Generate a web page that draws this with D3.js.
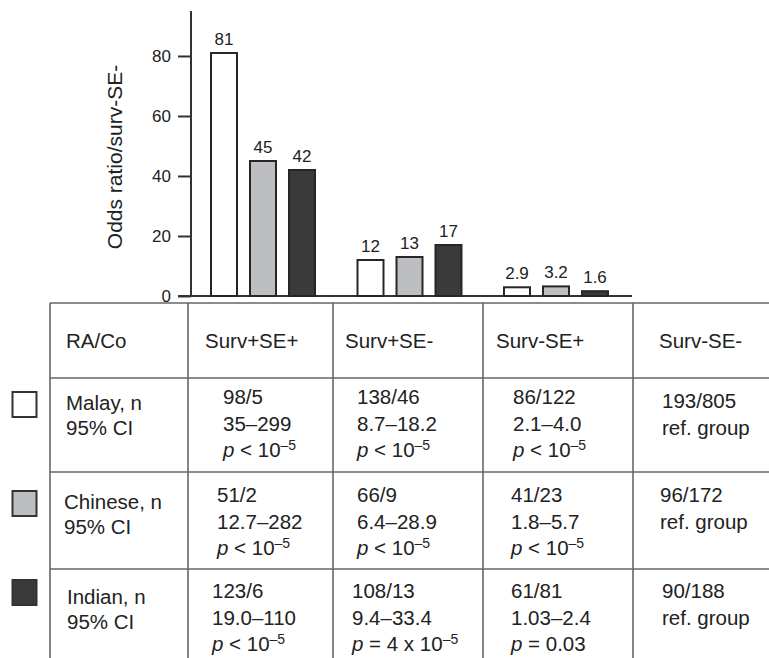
<!DOCTYPE html>
<html>
<head>
<meta charset="utf-8">
<script src="https://cdn.jsdelivr.net/npm/d3@7"></script>
<style>
  body { margin: 0; background: #fff; }
  svg { font-family: "Liberation Sans", Arial, sans-serif; }
</style>
</head>
<body>
<svg id="chart" width="769" height="658"></svg>
<script>
// data
const groups = ["Surv+SE+", "Surv+SE-", "Surv-SE+"];
const races = ["Malay", "Chinese", "Indian"];
const malayOR = [81, 12, 2.9];
const chineseOR = [45, 13, 3.2];
const indianOR = [42, 17, 1.6];
const barLabels = [["81", "12", "2.9"], ["45", "13", "3.2"], ["42", "17", "1.6"]];
const yTicks = [0, 20, 40, 60, 80];

const headers = ["RA/Co", "Surv+SE+", "Surv+SE-", "Surv-SE+", "Surv-SE-"];
const rowLabels = [["Malay, n", "95% CI"], ["Chinese, n", "95% CI"], ["Indian, n", "95% CI"]];
const malayCells = [["98/5", "35–299", "p|< 10|–5"], ["138/46", "8.7–18.2", "p|< 10|–5"], ["86/122", "2.1–4.0", "p|< 10|–5"], ["193/805", "ref. group"]];
const chineseCells = [["51/2", "12.7–282", "p|< 10|–5"], ["66/9", "6.4–28.9", "p|< 10|–5"], ["41/23", "1.8–5.7", "p|< 10|–5"], ["96/172", "ref. group"]];
const indianCells = [["123/6", "19.0–110", "p|< 10|–5"], ["108/13", "9.4–33.4", "p|= 4 x 10|–5"], ["61/81", "1.03–2.4", "p|= 0.03"], ["90/188", "ref. group"]];

const series = [malayOR, chineseOR, indianOR];
const cells = [malayCells, chineseCells, indianCells];
const fills = ["#ffffff", "#bdbec1", "#3a3a3a"];

const svg = d3.select("#chart");
const ink = "#222";

// layout
const colX = [50, 188, 333, 483, 633, 769];
const rowY = [303, 378, 472, 569, 700];

// y scale
const y = d3.scaleLinear().domain([0, 95]).range([296, 11]);

// group centers
const groupX = d3.scalePoint().domain(groups).range([263, 556]);
const inner = d3.scaleBand().domain(races).range([-52, 52]).paddingInner(1 / 3);

// axis
const yAxis = svg.append("g")
    .attr("transform", "translate(191,0)")
    .call(d3.axisLeft(y).tickValues(yTicks).tickSize(13).tickPadding(7));
yAxis.select(".domain").remove();
yAxis.selectAll(".tick line").attr("stroke", "#333").attr("stroke-width", 2);
yAxis.selectAll(".tick text").attr("fill", ink).style("font-size", "17px")
    .style("font-family", "Liberation Sans, Arial, sans-serif");

svg.append("line")
    .attr("x1", 191).attr("x2", 191)
    .attr("y1", y.range()[1]).attr("y2", y(0))
    .attr("stroke", "#333").attr("stroke-width", 2);
svg.append("line")
    .attr("x1", 178).attr("x2", 632)
    .attr("y1", y(0)).attr("y2", y(0))
    .attr("stroke", "#333").attr("stroke-width", 2);

svg.append("text")
    .attr("transform", "translate(122,157) rotate(-90)")
    .attr("text-anchor", "middle")
    .attr("fill", ink)
    .style("font-size", "21px")
    .text("Odds ratio/surv-SE-");

// bars
races.forEach((r, ri) => {
    const g = svg.append("g");
    g.selectAll("rect")
        .data(series[ri])
        .enter().append("rect")
        .attr("x", (d, i) => groupX(groups[i]) + inner(r))
        .attr("width", inner.bandwidth())
        .attr("y", d => y(d))
        .attr("height", d => y(0) - y(d))
        .attr("fill", fills[ri])
        .attr("stroke", "#262626")
        .attr("stroke-width", 2);
    g.selectAll("text")
        .data(series[ri])
        .enter().append("text")
        .attr("x", (d, i) => groupX(groups[i]) + inner(r) + inner.bandwidth() / 2)
        .attr("y", d => y(d) - 8)
        .attr("text-anchor", "middle")
        .attr("fill", ink)
        .style("font-size", "17px")
        .text((d, i) => barLabels[ri][i]);
});

// table lines
const lineColor = "#666";
svg.append("line")
    .attr("x1", colX[0]).attr("x2", 769)
    .attr("y1", rowY[0]).attr("y2", rowY[0])
    .attr("stroke", lineColor).attr("stroke-width", 1.6);
[rowY[1], rowY[2], rowY[3]].forEach(yy => {
    svg.append("line")
        .attr("x1", colX[0]).attr("x2", 769)
        .attr("y1", yy).attr("y2", yy)
        .attr("stroke", lineColor).attr("stroke-width", 1.6);
});
colX.slice(0, 5).forEach(xx => {
    svg.append("line")
        .attr("x1", xx).attr("x2", xx)
        .attr("y1", rowY[0]).attr("y2", 658)
        .attr("stroke", lineColor).attr("stroke-width", 1.6);
});

const fs = 20.5;
const lineH = 26.5;

// header
const headPad = [16, 17, 12, 13, 26];
svg.selectAll(".head")
    .data(headers)
    .enter().append("text")
    .attr("class", "head")
    .attr("x", (d, i) => colX[i] + headPad[i])
    .attr("y", 348)
    .attr("fill", ink)
    .style("font-size", fs + "px")
    .text(d => d);

// legend squares + row labels
const rowTop = [404, 502, 598];
const labelTop = [410, 509, 604];
const labelPad = [16, 14, 17];
const squareY = [392, 491, 580];
races.forEach((r, ri) => {
    svg.append("rect")
        .attr("x", 12.5).attr("y", squareY[ri])
        .attr("width", 24).attr("height", 25)
        .attr("fill", fills[ri])
        .attr("stroke", "#333").attr("stroke-width", 2);
    rowLabels[ri].forEach((t, li) => {
        svg.append("text")
            .attr("x", colX[0] + labelPad[ri])
            .attr("y", labelTop[ri] + li * 25)
            .attr("fill", ink)
            .style("font-size", fs + "px")
            .text(t);
    });
});

// cells
const cellPad = [
    [35, 24, 30, 29],
    [29, 24, 28, 27],
    [24, 19, 28, 29]
];
cells.forEach((rowCells, ri) => {
    rowCells.forEach((lines, ci) => {
        const x0 = colX[ci + 1] + cellPad[ri][ci];
        const y0 = ci === 3 && ri === 0 ? rowTop[ri] + 4 : rowTop[ri];
        lines.forEach((t, li) => {
            const txt = svg.append("text")
                .attr("x", x0)
                .attr("y", y0 + li * lineH)
                .attr("fill", ink)
                .style("font-size", fs + "px");
            if (t.indexOf("|") >= 0) {
                const parts = t.split("|");
                txt.append("tspan").style("font-style", "italic").text(parts[0]);
                txt.append("tspan").text(" " + parts[1]);
                if (parts[2]) {
                    txt.append("tspan")
                        .attr("dy", -7)
                        .style("font-size", "14px")
                        .text(parts[2]);
                }
            } else {
                txt.text(t);
            }
        });
    });
});
</script>
</body>
</html>
